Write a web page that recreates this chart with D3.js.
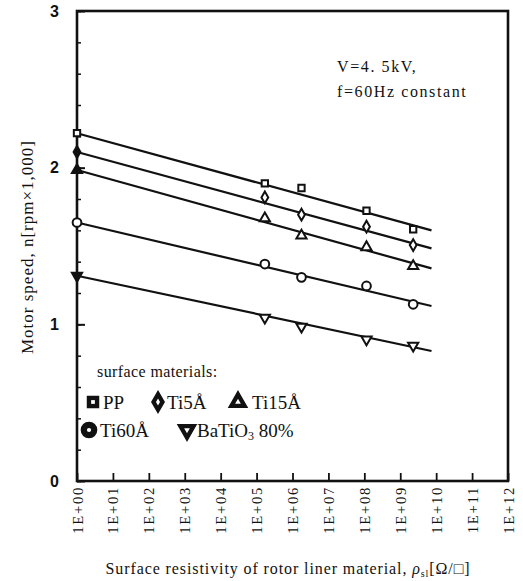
<!DOCTYPE html>
<html>
<head>
<meta charset="utf-8">
<script src="https://cdn.jsdelivr.net/npm/d3@7"></script>
<style>
  body { margin: 0; background: #fff; }
  text { fill: #111; }
</style>
</head>
<body>
<svg id="chart" width="523" height="581"></svg>
<script>
// log10 of surface resistivity for the measured points
const xPoints = [0, 5.23, 6.25, 8.06, 9.36];
const seriesNames = ["PP", "Ti5Å", "Ti15Å", "Ti60Å", "BaTiO3 80%"];
const ppValues = [2.22, 1.90, 1.87, 1.725, 1.607];
const ti5Values = [2.10, 1.81, 1.70, 1.623, 1.506];
const ti15Values = [1.985, 1.677, 1.566, 1.492, 1.372];
const ti60Values = [1.65, 1.385, 1.30, 1.245, 1.128];
const batioValues = [1.31, 1.043, 0.985, 0.904, 0.864];
// fitted straight lines (value at x = 0 and at the line end)
const fitX = [0, 9.87];
const fitStart = [2.22, 2.10, 1.985, 1.65, 1.31];
const fitEnd = [1.60, 1.485, 1.357, 1.117, 0.83];
const xTicks = d3.range(0, 13);
const yTicks = [0, 1, 2, 3];

const svg = d3.select("#chart");
const mLeft = 77, mRight = 508, mTop = 11, mBottom = 481;

const x = d3.scaleLinear().domain([0, 12]).range([mLeft, mRight]);
const y = d3.scaleLinear().domain([0, 3]).range([mBottom, mTop]);

const serif = "'Liberation Serif', 'DejaVu Serif', serif";
const sans = "'Liberation Sans', Arial, sans-serif";

const allValues = [ppValues, ti5Values, ti15Values, ti60Values, batioValues];
const shapes = [d3.symbolSquare, d3.symbolDiamond, d3.symbolTriangle, d3.symbolCircle, d3.symbolTriangle];
const rot = [0, 0, 0, 0, 180];
const sizes = [40, 40, 45, 60, 45];
// points on the axis (x = 0) are printed solid for some series
const solidAtZero = [false, true, true, false, true];

// y minor ticks
svg.append("g")
  .attr("transform", "translate(" + mLeft + ",0)")
  .call(d3.axisLeft(y).tickValues(d3.range(0, 3.01, 0.2)).tickSize(-4).tickFormat(""))
  .call(g => g.select(".domain").remove())
  .selectAll("line").attr("stroke", "#111").attr("stroke-width", 1.5);

// y major ticks + labels
svg.append("g")
  .attr("transform", "translate(" + mLeft + ",0)")
  .call(d3.axisLeft(y).tickValues(yTicks).tickSize(-8).tickPadding(18).tickFormat(d3.format("d")))
  .call(g => g.select(".domain").remove())
  .call(g => g.selectAll("line").attr("stroke", "#111").attr("stroke-width", 2))
  .selectAll("text")
  .attr("font-family", sans).attr("font-size", 16).attr("font-weight", "bold").attr("fill", "#111");

// x axis
svg.append("g")
  .attr("transform", "translate(0," + mBottom + ")")
  .call(d3.axisBottom(x).tickValues(xTicks).tickSize(-8).tickFormat(d => "1E+" + d3.format("02")(d)))
  .call(g => g.select(".domain").remove())
  .call(g => g.selectAll("line").attr("stroke", "#111").attr("stroke-width", 1.8))
  .selectAll("text")
  .attr("y", 0).attr("dy", "0.35em")
  .attr("transform", "translate(0,5) rotate(-90)")
  .attr("text-anchor", "end")
  .attr("font-family", serif).attr("font-size", 14.5).attr("letter-spacing", 1.8).attr("fill", "#111");

// frame
svg.append("rect")
  .attr("x", mLeft).attr("y", mTop)
  .attr("width", mRight - mLeft).attr("height", mBottom - mTop)
  .attr("fill", "none").attr("stroke", "#111").attr("stroke-width", 2.6);

// fit lines
const line = d3.line().x(d => x(d[0])).y(d => y(d[1]));
fitStart.forEach((v, i) => {
  svg.append("path")
    .attr("d", line([[fitX[0], v], [fitX[1], fitEnd[i]]]))
    .attr("fill", "none").attr("stroke", "#111").attr("stroke-width", 2.2);
});

// measured points
allValues.forEach((vals, i) => {
  svg.append("g").selectAll("path")
    .data(vals)
    .join("path")
    .attr("d", d3.symbol().type(shapes[i]).size(sizes[i]))
    .attr("transform", (d, j) => "translate(" + x(xPoints[j]) + "," + y(d) + ") rotate(" + rot[i] + ")")
    .attr("fill", (d, j) => (j === 0 && solidAtZero[i]) ? "#111" : "#fff")
    .attr("stroke", "#111").attr("stroke-width", 2);
});

// condition note
const note = svg.append("g").attr("font-family", serif).attr("font-size", 16).attr("letter-spacing", 1.6);
note.append("text").attr("x", 337).attr("y", 72).text("V=4. 5kV,");
note.append("text").attr("x", 337).attr("y", 97).text("f=60Hz constant");

// legend
const leg = svg.append("g").attr("font-family", serif);
leg.append("text").attr("x", 97).attr("y", 377).attr("font-size", 16).attr("letter-spacing", 0.4)
  .text("surface materials:");
const legPos = [[93, 402, 103], [158, 402, 167], [238, 402, 252], [89, 430, 100], [187, 430, 197]];
const legSize = [120, 130, 140, 180, 140];
seriesNames.forEach((name, i) => {
  const p = legPos[i];
  const gm = leg.append("g").attr("transform", "translate(" + p[0] + "," + p[1] + ") rotate(" + rot[i] + ")");
  gm.append("path").attr("d", d3.symbol().type(shapes[i]).size(legSize[i])())
    .attr("fill", "#111").attr("stroke", "#111").attr("stroke-width", 1.5);
  gm.append("path").attr("d", d3.symbol().type(shapes[i]).size(14)())
    .attr("fill", "#fff");
  const t = leg.append("text").attr("x", p[2]).attr("y", p[1] + 7).attr("font-size", 19);
  if (name.startsWith("BaTiO3")) {
    t.append("tspan").text("BaTiO");
    t.append("tspan").attr("font-size", 12).attr("dy", 3).text("3");
    t.append("tspan").attr("dy", -3).text(" 80%");
  } else {
    t.text(name);
  }
});

// y axis title
svg.append("text")
  .attr("transform", "translate(33," + 247 + ") rotate(-90)")
  .attr("text-anchor", "middle")
  .attr("font-family", serif).attr("font-size", 17).attr("letter-spacing", 1)
  .text("Motor speed,   n[rpm×1,000]");

// x axis title
const xt = svg.append("text")
  .attr("x", 288).attr("y", 574)
  .attr("text-anchor", "middle")
  .attr("font-family", serif).attr("font-size", 16).attr("letter-spacing", 0.9);
xt.append("tspan").text("Surface resistivity of rotor liner material,   ");
xt.append("tspan").attr("font-style", "italic").text("ρ");
xt.append("tspan").attr("font-size", 10).attr("dy", 3).text("sl");
xt.append("tspan").attr("dy", -3).text("[Ω/□]");
</script>
</body>
</html>
